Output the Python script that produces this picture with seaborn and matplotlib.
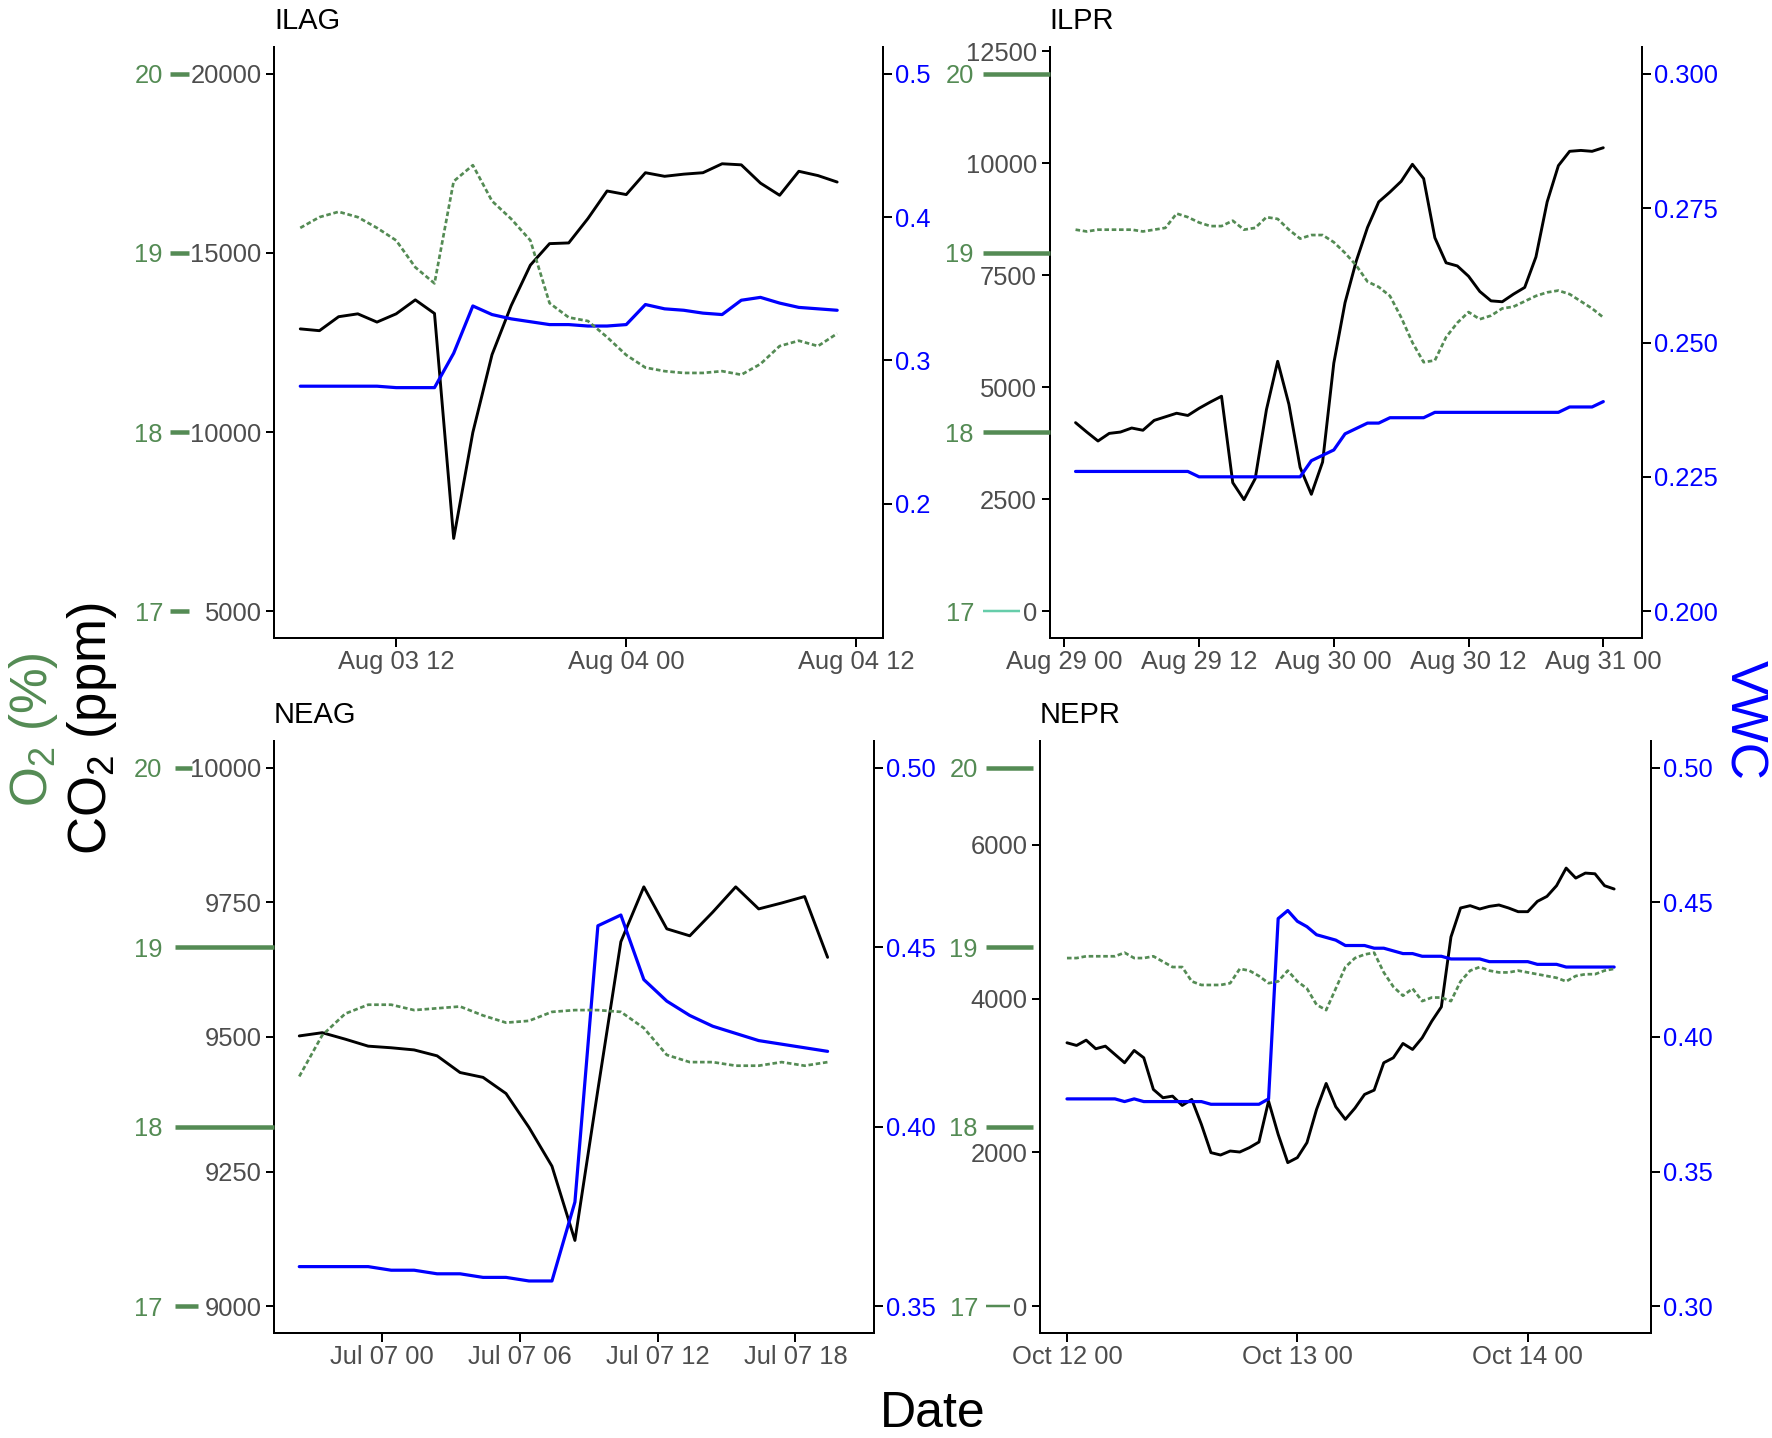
import matplotlib
matplotlib.use("Agg")
import matplotlib.pyplot as plt
import matplotlib.dates as mdates
import matplotlib.ticker as mticker
import pandas as pd
import seaborn as sns

# ---------------------------------------------------------------- data
# ILAG (hourly from Aug 03 07:00)
ilag_start = "2021-08-03 07:00"
ilag_co2 = [12880, 12830, 13220, 13300, 13070, 13300, 13690, 13310, 7030, 9990,
            12160, 13530, 14660, 15260, 15280, 15960, 16730, 16630, 17240, 17140,
            17200, 17240, 17490, 17460, 16950, 16610, 17280, 17160, 16980]
ilag_o2 = [19.14, 19.20, 19.23, 19.20, 19.14, 19.07, 18.92, 18.83, 19.40, 19.49,
           19.29, 19.19, 19.07, 18.72, 18.64, 18.62, 18.53, 18.43, 18.36, 18.34,
           18.33, 18.33, 18.34, 18.32, 18.38, 18.48, 18.51, 18.48, 18.55]
ilag_vwc = [0.282, 0.282, 0.282, 0.282, 0.282, 0.281, 0.281, 0.281, 0.305, 0.338,
            0.332, 0.329, 0.327, 0.325, 0.325, 0.324, 0.324, 0.325, 0.339, 0.336,
            0.335, 0.333, 0.332, 0.342, 0.344, 0.340, 0.337, 0.336, 0.335]

# ILPR (hourly from Aug 29 01:00)
ilpr_start = "2021-08-29 01:00"
ilpr_co2 = [4210, 4000, 3800, 3970, 4000, 4090, 4040, 4260, 4340, 4420,
            4370, 4530, 4670, 4800, 2870, 2490, 2960, 4500, 5580, 4620,
            3210, 2610, 3330, 5540, 6890, 7820, 8570, 9140, 9360, 9600,
            9980, 9660, 8340, 7780, 7710, 7480, 7140, 6930, 6910, 7080,
            7230, 7910, 9140, 9950, 10270, 10290, 10270, 10350]
ilpr_o2 = [19.13, 19.12, 19.13, 19.13, 19.13, 19.13, 19.12, 19.13, 19.14, 19.22,
           19.20, 19.17, 19.15, 19.15, 19.18, 19.13, 19.14, 19.20, 19.19, 19.13,
           19.08, 19.10, 19.10, 19.06, 19.00, 18.93, 18.84, 18.81, 18.76, 18.64,
           18.50, 18.39, 18.40, 18.53, 18.61, 18.67, 18.63, 18.65, 18.69, 18.70,
           18.73, 18.76, 18.78, 18.79, 18.77, 18.73, 18.69, 18.64]
ilpr_vwc = [0.226, 0.226, 0.226, 0.226, 0.226, 0.226, 0.226, 0.226, 0.226, 0.226,
            0.226, 0.225, 0.225, 0.225, 0.225, 0.225, 0.225, 0.225, 0.225, 0.225,
            0.225, 0.228, 0.229, 0.230, 0.233, 0.234, 0.235, 0.235, 0.236, 0.236,
            0.236, 0.236, 0.237, 0.237, 0.237, 0.237, 0.237, 0.237, 0.237, 0.237,
            0.237, 0.237, 0.237, 0.237, 0.238, 0.238, 0.238, 0.239]

# NEAG (hourly from Jul 06 20:24)
neag_start = "2021-07-06 20:24"
neag_co2 = [9502, 9508, 9496, 9483, 9480, 9476, 9465, 9434, 9425, 9395,
            9332, 9260, 9122, 9402, 9677, 9779, 9701, 9688, 9732, 9779,
            9738, 9749, 9761, 9648]
neag_o2 = [18.28, 18.51, 18.63, 18.68, 18.68, 18.65, 18.66, 18.67, 18.62, 18.58,
           18.59, 18.64, 18.65, 18.65, 18.64, 18.55, 18.40, 18.36, 18.36, 18.34,
           18.34, 18.36, 18.34, 18.36]
neag_vwc = [0.361, 0.361, 0.361, 0.361, 0.360, 0.360, 0.359, 0.359, 0.358, 0.358,
            0.357, 0.357, 0.379, 0.456, 0.459, 0.441, 0.435, 0.431, 0.428, 0.426,
            0.424, 0.423, 0.422, 0.421]

# NEPR (hourly from Oct 12 00:00)
nepr_start = "2021-10-12 00:00"
nepr_co2 = [3425, 3390, 3459, 3347, 3381, 3273, 3165, 3325, 3230, 2818,
            2710, 2731, 2610, 2688, 2364, 1996, 1965, 2017, 2004, 2061,
            2134, 2666, 2234, 1866, 1931, 2126, 2558, 2896, 2593, 2429,
            2575, 2753, 2809, 3165, 3230, 3416, 3338, 3489, 3705, 3892,
            4801, 5178, 5208, 5165, 5199, 5217, 5178, 5130, 5130, 5264,
            5329, 5468, 5697, 5567, 5632, 5623, 5468, 5425]
nepr_o2 = [18.94, 18.94, 18.95, 18.95, 18.95, 18.95, 18.97, 18.94, 18.94, 18.95,
           18.92, 18.89, 18.89, 18.81, 18.79, 18.79, 18.79, 18.80, 18.88, 18.87,
           18.84, 18.80, 18.81, 18.87, 18.81, 18.77, 18.68, 18.65, 18.77, 18.89,
           18.94, 18.96, 18.97, 18.86, 18.78, 18.73, 18.77, 18.70, 18.72, 18.72,
           18.70, 18.81, 18.87, 18.89, 18.87, 18.86, 18.86, 18.87, 18.86, 18.85,
           18.84, 18.83, 18.81, 18.84, 18.85, 18.85, 18.87, 18.88]
nepr_vwc = [0.377, 0.377, 0.377, 0.377, 0.377, 0.377, 0.376, 0.377, 0.376, 0.376,
            0.376, 0.376, 0.376, 0.376, 0.376, 0.375, 0.375, 0.375, 0.375, 0.375,
            0.375, 0.377, 0.444, 0.447, 0.443, 0.441, 0.438, 0.437, 0.436, 0.434,
            0.434, 0.434, 0.433, 0.433, 0.432, 0.431, 0.431, 0.430, 0.430, 0.430,
            0.429, 0.429, 0.429, 0.429, 0.428, 0.428, 0.428, 0.428, 0.428, 0.427,
            0.427, 0.427, 0.426, 0.426, 0.426, 0.426, 0.426, 0.426]

# axis ticks
o2_ticks = [17, 18, 19, 20]
ilag_co2_ticks = [5000, 10000, 15000, 20000]
ilag_vwc_ticks = [0.2, 0.3, 0.4, 0.5]
ilpr_co2_ticks = [0, 2500, 5000, 7500, 10000, 12500]
ilpr_vwc_ticks = [0.200, 0.225, 0.250, 0.275, 0.300]
neag_co2_ticks = [9000, 9250, 9500, 9750, 10000]
neag_vwc_ticks = [0.35, 0.40, 0.45, 0.50]
nepr_co2_ticks = [0, 2000, 4000, 6000]
nepr_vwc_ticks = [0.30, 0.35, 0.40, 0.45, 0.50]

# ---------------------------------------------------------------- style
W, H, DPI = 1772, 1438, 200
PT = 72.0 / DPI  # points per pixel

sns.set_style("ticks")
plt.rcParams["font.family"] = ["Liberation Sans", "DejaVu Sans"]
plt.rcParams["mathtext.fontset"] = "custom"
plt.rcParams["mathtext.rm"] = "Liberation Sans"
plt.rcParams["mathtext.it"] = "Liberation Sans:italic"
plt.rcParams["mathtext.bf"] = "Liberation Sans:bold"

GREEN = "#548B54"
AQUA = "#66CDAA"
GREY = "#4D4D4D"
BLUE = "#0000FF"
FS = 9.2

fig = plt.figure(figsize=(W / DPI, H / DPI), dpi=DPI)
fig.patch.set_facecolor("white")


def box(l, t, r, b):
    return [l / W, 1 - b / H, (r - l) / W, (b - t) / H]


O2_LIM = (16.85, 20.15)

panels = [
    dict(name="ILAG", box=(274, 47, 883, 638), start=ilag_start,
         co2=ilag_co2, o2=ilag_o2, vwc=ilag_vwc,
         co2_lim=(4250, 20750), co2_ticks=ilag_co2_ticks,
         vwc_lim=(0.10625, 0.51875), vwc_ticks=ilag_vwc_ticks, vwc_fmt="%.1f",
         day0="2021-08-03", xlim=(5.63, 37.39), byhour=[0, 12],
         o2_off=104, o2_len=[19, 19, 19, 19], o2_w=[4.5, 4.5, 4.5, 4.5],
         o2_col=[GREEN] * 4, o2_pad=7),
    dict(name="ILPR", box=(1049.5, 47, 1641.7, 638), start=ilpr_start,
         co2=ilpr_co2, o2=ilpr_o2, vwc=ilpr_vwc,
         co2_lim=(-600, 12600), co2_ticks=ilpr_co2_ticks,
         vwc_lim=(0.195, 0.305), vwc_ticks=ilpr_vwc_ticks, vwc_fmt="%.3f",
         day0="2021-08-29", xlim=(-1.32, 51.42), byhour=[0, 12],
         o2_off=66.5, o2_len=[37, 66.5, 66.5, 66.5], o2_w=[2.5, 4.5, 4.5, 4.5],
         o2_col=[AQUA, GREEN, GREEN, GREEN], o2_pad=9),
    dict(name="NEAG", box=(274, 741, 874, 1333), start=neag_start,
         co2=neag_co2, o2=neag_o2, vwc=neag_vwc,
         co2_lim=(8950, 10050), co2_ticks=neag_co2_ticks,
         vwc_lim=(0.3425, 0.5075), vwc_ticks=neag_vwc_ticks, vwc_fmt="%.2f",
         day0="2021-07-07", xlim=(-4.70, 21.42), byhour=[0, 6, 12, 18],
         o2_off=99, o2_len=[23, 99, 99, 17], o2_w=[4.5, 4.5, 4.5, 4.5],
         o2_col=[GREEN] * 4, o2_pad=12.5),
    dict(name="NEPR", box=(1039.8, 741, 1651.4, 1333), start=nepr_start,
         co2=nepr_co2, o2=nepr_o2, vwc=nepr_vwc,
         co2_lim=(-350, 7350), co2_ticks=nepr_co2_ticks,
         vwc_lim=(0.29, 0.51), vwc_ticks=nepr_vwc_ticks, vwc_fmt="%.2f",
         day0="2021-10-12", xlim=(-2.83, 60.88), byhour=[0],
         o2_off=54.2, o2_len=[24.4, 47.3, 47.3, 47.3], o2_w=[2.5, 4.5, 4.5, 4.5],
         o2_col=[GREEN] * 4, o2_pad=7.6),
]

SPINE_W = 2.0 * PT
TICK_L = 8.5 * PT

for p in panels:
    times = pd.date_range(p["start"], periods=len(p["co2"]), freq="h")
    df = pd.DataFrame({"time": times, "co2": p["co2"], "o2": p["o2"], "vwc": p["vwc"]})

    ax = fig.add_axes(box(*p["box"]))
    ax_v = ax.twinx()
    ax_o = ax.twinx()

    sns.lineplot(data=df, x="time", y="o2", ax=ax_o, color=GREEN, linewidth=2.7 * PT,
                 linestyle=(0, (1.7, 1.0)))
    sns.lineplot(data=df, x="time", y="co2", ax=ax, color="black", linewidth=2.9 * PT)
    sns.lineplot(data=df, x="time", y="vwc", ax=ax_v, color=BLUE, linewidth=3.2 * PT)

    day0 = pd.Timestamp(p["day0"])
    ax.set_xlim(day0 + pd.Timedelta(hours=p["xlim"][0]), day0 + pd.Timedelta(hours=p["xlim"][1]))
    ax.xaxis.set_major_locator(mdates.HourLocator(byhour=p["byhour"]))
    ax.xaxis.set_major_formatter(mdates.DateFormatter("%b %d %H"))

    # CO2 axis (left, main)
    ax.set_ylim(*p["co2_lim"])
    ax.yaxis.set_major_locator(mticker.FixedLocator(p["co2_ticks"]))
    ax.yaxis.set_major_formatter(mticker.FormatStrFormatter("%d"))
    ax.set_xlabel("")
    ax.set_ylabel("")
    for s in ["top", "right"]:
        ax.spines[s].set_visible(False)
    for s in ["left", "bottom"]:
        ax.spines[s].set_linewidth(SPINE_W)
        ax.spines[s].set_color("black")
    ax.tick_params(axis="both", which="major", length=TICK_L, width=SPINE_W, color="black",
                   labelsize=FS, labelcolor=GREY, pad=4 * PT, direction="out")
    ax.tick_params(axis="y", left=True, right=False, labelleft=True, labelright=False)
    ax.set_title(p["name"], loc="left", fontsize=10.5, pad=6.5, color="black")

    # VWC axis (right)
    ax_v.set_ylim(*p["vwc_lim"])
    ax_v.yaxis.set_major_locator(mticker.FixedLocator(p["vwc_ticks"]))
    ax_v.yaxis.set_major_formatter(mticker.FormatStrFormatter(p["vwc_fmt"]))
    ax_v.set_ylabel("")
    for s in ["top", "left", "bottom"]:
        ax_v.spines[s].set_visible(False)
    ax_v.spines["right"].set_linewidth(SPINE_W)
    ax_v.spines["right"].set_color("black")
    ax_v.tick_params(axis="y", length=TICK_L, width=SPINE_W, color="black",
                     labelsize=FS, labelcolor=BLUE, pad=3.5 * PT, direction="out")

    # O2 axis (left, outside, ticks drawn as green bars)
    ax_o.set_ylim(*O2_LIM)
    ax_o.yaxis.tick_left()
    ax_o.yaxis.set_major_locator(mticker.FixedLocator(o2_ticks))
    ax_o.yaxis.set_major_formatter(mticker.FormatStrFormatter("%d"))
    ax_o.set_ylabel("")
    for s in ["top", "right", "bottom", "left"]:
        ax_o.spines[s].set_visible(False)
    ax_o.spines["left"].set_position(("outward", p["o2_off"] * PT))
    ax_o.tick_params(axis="y", direction="in", length=6 * PT, width=4.5 * PT, color=GREEN,
                     labelsize=FS, labelcolor=GREEN, pad=p["o2_pad"] * PT,
                     left=True, right=False, labelleft=True, labelright=False)
    for t, L, w, c in zip(ax_o.yaxis.get_major_ticks(), p["o2_len"], p["o2_w"], p["o2_col"]):
        t.tick1line.set_markersize(L * PT)
        t.tick1line.set_markeredgewidth(w * PT)
        t.tick1line.set_color(c)
        t.tick1line.set_markeredgecolor(c)

# ---------------------------------------------------------------- labels
fig.text(933 / W, 1 - 1427 / H, "Date", ha="center", va="baseline", fontsize=18, color="black")
fig.text(33 / W, 1 - 730 / H, r"O$_\mathregular{2}$ (%)", rotation=90, ha="center", va="center",
         fontsize=18.5, color=GREEN)
fig.text(92 / W, 1 - 729 / H, r"CO$_\mathregular{2}$ (ppm)", rotation=90, ha="center", va="center",
         fontsize=19, color="black")
fig.text(1744 / W, 1 - 720 / H, "VWC", rotation=270, ha="center", va="center",
         fontsize=18.5, color=BLUE)

fig.savefig("out.png", dpi=DPI, facecolor="white")
